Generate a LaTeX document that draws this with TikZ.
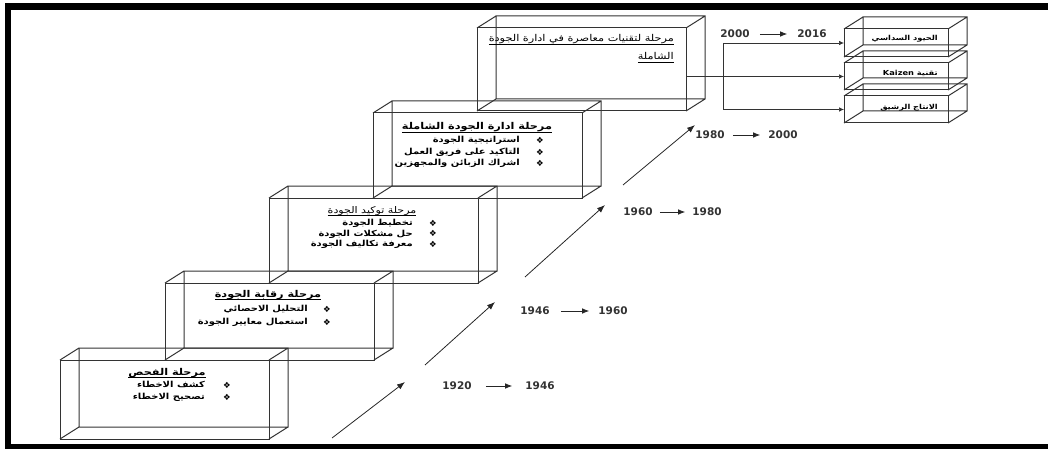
\documentclass[tikz,border=0pt]{standalone}
\usepackage{fontspec}
\usetikzlibrary{arrows.meta}
\TeXXeTstate=1
\newfontfamily\arabicfont[Script=Arabic, FakeStretch=1.2]{DejaVu Sans}
\newfontfamily\symfont{DejaVu Sans}
\newfontfamily\yearfont{DejaVu Sans}
\newcommand\artxt[1]{\beginR #1\endR}
\newcommand\arhead[1]{\setbox0=\hbox{\beginR #1\endR}\leavevmode\rlap{\vrule height -1.6pt depth 2.3pt width \wd0}\box0}
\newcommand\cubeback[1]{%
  \draw[boxline] ([shift={(19,-12)}]#1.north west) rectangle ([shift={(19,-12)}]#1.south east)
    (#1.north west) -- ++(19,-12) (#1.north east) -- ++(19,-12)
    (#1.south west) -- ++(19,-12) (#1.south east) -- ++(19,-12);}
\tikzset{
  boxline/.style={draw=black!80, line width=1pt},
  frontbox/.style={boxline, rectangle, inner sep=0pt, outer sep=0pt},
  bigbox/.style={frontbox, minimum width=209pt},
  smallbox/.style={frontbox, minimum width=104pt, minimum height=27pt},
  headtxt/.style={font=\arabicfont\bfseries\fontsize{9.4}{11}\selectfont, inner sep=0pt, anchor=base},
  itemtxt/.style={font=\arabicfont\bfseries\fontsize{8.3}{10}\selectfont, inner sep=0pt, anchor=base east},
  smalltxt/.style={font=\arabicfont\bfseries\fontsize{6.9}{8}\selectfont, inner sep=0pt, anchor=base east},
  bul/.style={font=\symfont\fontsize{8.5}{9}\selectfont, inner sep=0pt},
  year/.style={font=\yearfont\bfseries\fontsize{10.5}{12}\selectfont, text=black!80, inner sep=0pt},
  yarr/.style={draw=black!85, line width=0.8pt, -{Latex[length=7pt,width=5.5pt]}},
  diag/.style={draw=black!85, line width=0.8pt, -{Latex[length=8pt,width=6pt]}},
  conn/.style={draw=black!80, line width=0.7pt, -{Latex[length=5pt,width=4.5pt]}}
}
\begin{document}
\begin{tikzpicture}[x=1pt,y=-1pt]
\useasboundingbox (0,0) rectangle (1048,449);
% frame
\fill[black] (5,3) rectangle (11,449);
\fill[black] (5,3) rectangle (1048,10);
\fill[black] (5,444) rectangle (1048,449);

% big boxes
\node[bigbox, minimum height=79pt] (b1) at (164.5,399.5) {};
\node[bigbox, minimum height=77pt] (b2) at (269.5,321.5) {};
\node[bigbox, minimum height=85pt] (b3) at (373.5,240.5) {};
\node[bigbox, minimum height=85pt] (b4) at (477.5,155.5) {};
\node[bigbox, minimum height=83pt] (b5) at (581.5,69.5) {};
\cubeback{b1}\cubeback{b2}\cubeback{b3}\cubeback{b4}\cubeback{b5}

% small boxes
\node[smallbox, minimum height=28pt] (sA) at (896,43) {};
\node[smallbox] (sB) at (896,76.5) {};
\node[smallbox] (sC) at (896,109.5) {};
\cubeback{sA}\cubeback{sB}\cubeback{sC}

% box 1 text
\node[headtxt] (h1) at (167,375) {\arhead{مرحلة الفحص}};
\node[itemtxt] (i11) at (205,387.5) {\artxt{كشف الاخطاء}};
\node[itemtxt] (i12) at (205,399.5) {\artxt{تصحيح الاخطاء}};
\node[bul] (u11) at (227,385) {❖};
\node[bul] (u12) at (227,397) {❖};

% box 2 text
\node[headtxt] (h2) at (268,297) {\arhead{مرحلة رقابة الجودة}};
\node[itemtxt] (i21) at (308,311.5) {\artxt{التحليل الاحصائي}};
\node[itemtxt] (i22) at (308,324.5) {\artxt{استعمال معايير الجودة}};
\node[bul] (u21) at (327,309) {❖};
\node[bul] (u22) at (327,322) {❖};

% box 3 text
\node[headtxt, font=\arabicfont\fontsize{9.2}{11}\selectfont] (h3) at (372,213) {\arhead{مرحلة توكيد الجودة}};
\node[itemtxt] (i31) at (413,225.5) {\artxt{تخطيط الجودة}};
\node[itemtxt] (i32) at (413,236) {\artxt{حل مشكلات الجودة}};
\node[itemtxt] (i33) at (413,246.5) {\artxt{معرفة تكاليف الجودة}};
\node[bul] (u31) at (433,223) {❖};
\node[bul] (u32) at (433,233.5) {❖};
\node[bul] (u33) at (433,244) {❖};

% box 4 text
\node[headtxt] (h4) at (477,130) {\arhead{مرحلة ادارة الجودة الشاملة}};
\node[itemtxt] (i41) at (520,142.5) {\artxt{استراتيجية الجودة}};
\node[itemtxt] (i42) at (520,154.5) {\artxt{التاكيد على فريق العمل}};
\node[itemtxt] (i43) at (520,165.5) {\artxt{اشراك الزبائن والمجهزين}};
\node[bul] (u41) at (540,140) {❖};
\node[bul] (u42) at (540,152) {❖};
\node[bul] (u43) at (540,163) {❖};

% box 5 text
\node[headtxt, font=\arabicfont\fontsize{9.4}{11}\selectfont, anchor=base east] (h5a) at (674,42) {\arhead{مرحلة لتقنيات معاصرة في ادارة الجودة}};
\node[headtxt, font=\arabicfont\fontsize{9.4}{11}\selectfont, anchor=base east] (h5b) at (674,60) {\arhead{الشاملة}};

% small box text
\node[smalltxt] (tA) at (938,40.5) {\artxt{الحيود السداسي}};
\node[smalltxt] (tB) at (938,75.5) {\artxt{تقنية \beginL Kaizen\endL}};
\node[smalltxt] (tC) at (938,109.5) {\artxt{الانتاج الرشيق}};

% connectors to small boxes
\coordinate (jn) at (723,76.5);
\draw[conn] (b5.east |- sB.west) -- (sB.west);
\draw[conn] (jn |- sA.west) -- (sA.west);
\draw[conn] (jn |- sA.west) |- (sC.west);

% diagonal arrows
\coordinate (d1s) at (332,438); \coordinate (d1e) at (405,382);
\coordinate (d2s) at (425,365); \coordinate (d2e) at (495,302);
\coordinate (d3s) at (525,277); \coordinate (d3e) at (605,205);
\coordinate (d4s) at (623,185); \coordinate (d4e) at (695,125);
\draw[diag] (d1s) -- (d1e);
\draw[diag] (d2s) -- (d2e);
\draw[diag] (d3s) -- (d3e);
\draw[diag] (d4s) -- (d4e);

% years
\node[year] (y1a) at (457,386) {1920};
\node[year] (y1b) at (540,386) {1946};
\draw[yarr, shorten <=14pt, shorten >=13pt] (y1a.east) -- (y1b.west);
\node[year] (y2a) at (535,311) {1946};
\node[year] (y2b) at (613,311) {1960};
\draw[yarr, shorten <=11pt, shorten >=9pt] (y2a.east) -- (y2b.west);
\node[year] (y3a) at (638,212) {1960};
\node[year] (y3b) at (707,212) {1980};
\draw[yarr, shorten <=7pt, shorten >=7pt] (y3a.east) -- (y3b.west);
\node[year] (y4a) at (710,135) {1980};
\node[year] (y4b) at (783,135) {2000};
\draw[yarr, shorten <=8pt, shorten >=8pt] (y4a.east) -- (y4b.west);
\node[year] (y5a) at (735,34) {2000};
\node[year] (y5b) at (812,34) {2016};
\draw[yarr, shorten <=10pt, shorten >=10pt] (y5a.east) -- (y5b.west);
\end{tikzpicture}
\end{document}
